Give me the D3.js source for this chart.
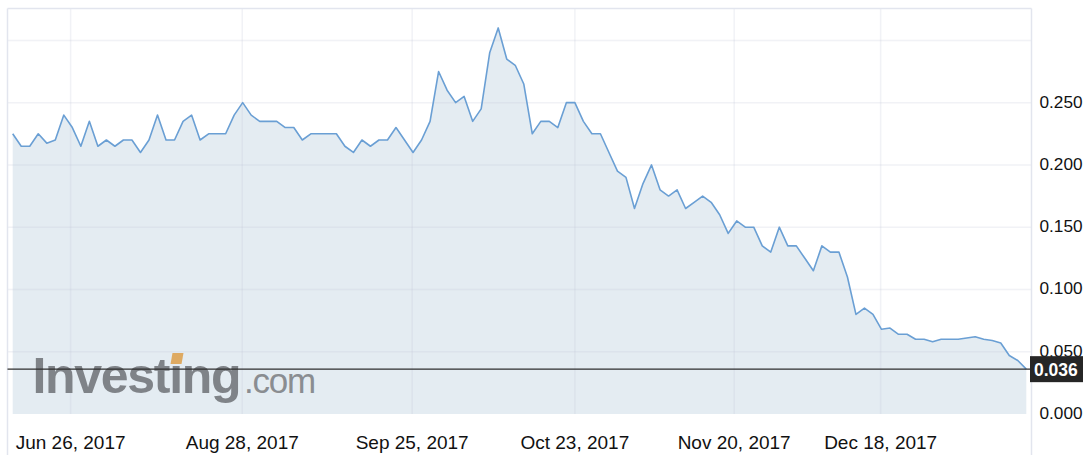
<!DOCTYPE html>
<html>
<head>
<meta charset="utf-8">
<script src="https://cdn.jsdelivr.net/npm/d3@7"></script>
<style>
  html, body { margin: 0; padding: 0; background: #fff; }
  svg { display: block; font-family: "Liberation Sans", Arial, Helvetica, sans-serif; }
</style>
</head>
<body>
<svg id="chart" width="1087" height="455"></svg>
<script>
// ---- data ----
const prices = [
  0.225, 0.215, 0.215, 0.225, 0.2175, 0.22, 0.24, 0.23, 0.215, 0.235,
  0.215, 0.22, 0.215, 0.22, 0.22, 0.21, 0.22, 0.24, 0.22, 0.22,
  0.235, 0.24, 0.22, 0.225, 0.225, 0.225, 0.24, 0.25, 0.24, 0.235,
  0.235, 0.235, 0.23, 0.23, 0.22, 0.225, 0.225, 0.225, 0.225, 0.215,
  0.21, 0.22, 0.215, 0.22, 0.22, 0.23, 0.22, 0.21, 0.22, 0.235,
  0.275, 0.26, 0.25, 0.255, 0.235, 0.245, 0.29, 0.31, 0.285, 0.28,
  0.265, 0.225, 0.235, 0.235, 0.23, 0.25, 0.25, 0.235, 0.225, 0.225,
  0.21, 0.195, 0.19, 0.165, 0.185, 0.2, 0.18, 0.175, 0.18, 0.165,
  0.17, 0.175, 0.17, 0.16, 0.145, 0.155, 0.15, 0.15, 0.135, 0.13,
  0.15, 0.135, 0.135, 0.125, 0.115, 0.135, 0.13, 0.13, 0.11, 0.08,
  0.085, 0.08, 0.068, 0.069, 0.064, 0.064, 0.06, 0.06, 0.058, 0.06,
  0.06, 0.06, 0.061, 0.062, 0.06, 0.059, 0.057, 0.047, 0.043, 0.036
];
const xTickLabels = ["Jun 26, 2017", "Aug 28, 2017", "Sep 25, 2017", "Oct 23, 2017", "Nov 20, 2017", "Dec 18, 2017"];
const xTickIndex  = [6.8, 26.95, 46.9, 66, 84.7, 101.9];
const yGridValues = [0, 0.05, 0.1, 0.15, 0.2, 0.25, 0.3];
const yTickLabels = ["0.000", "0.050", "0.100", "0.150", "0.200", "0.250"];
const yTickValues = [0, 0.05, 0.1, 0.15, 0.2, 0.25];
const lastPrice = 0.036;

// ---- layout ----
const svg = d3.select("#chart");
const frame = { left: 7.5, right: 1031.5, top: 8.5, bottom: 455 };
const plot = { top: 8.5, bottom: 414 };

const x = d3.scaleLinear().domain([0, prices.length - 1]).range([12.7, 1026.3]);
const y = d3.scaleLinear().domain([0, 0.3256]).range([plot.bottom, plot.top]);

// fill area
const area = d3.area()
  .x((d, i) => x(i))
  .y0(y(0))
  .y1(d => y(d));
svg.append("path")
  .datum(prices)
  .attr("d", area)
  .attr("fill", "#e4ecf2");

// grid lines
const grid = svg.append("g").attr("stroke", "rgba(190,198,212,0.22)").attr("stroke-width", 1.5);
grid.selectAll("line.h").data(yGridValues.filter(v => v > 0)).enter().append("line")
  .attr("x1", frame.left).attr("x2", frame.right)
  .attr("y1", d => y(d)).attr("y2", d => y(d));
grid.selectAll("line.v").data(xTickIndex).enter().append("line")
  .attr("x1", d => x(d)).attr("x2", d => x(d))
  .attr("y1", plot.top).attr("y2", plot.bottom);

// frame borders
const border = svg.append("g").attr("stroke", "#e2e5ee").attr("stroke-width", 1.5).attr("fill", "none");
border.append("line").attr("x1", frame.left).attr("x2", frame.right).attr("y1", frame.top).attr("y2", frame.top);
border.append("line").attr("x1", frame.left).attr("x2", frame.left).attr("y1", frame.top).attr("y2", frame.bottom);
border.append("line").attr("x1", frame.right).attr("x2", frame.right).attr("y1", frame.top).attr("y2", frame.bottom);

// watermark
const wm = svg.append("g").attr("class", "watermark");
const inv = wm.append("text")
  .attr("x", 32.5).attr("y", 392.5)
  .attr("font-size", 50).attr("font-weight", "bold")
  .attr("letter-spacing", "-1.3px")
  .attr("fill", "#7f8388")
  .text("Investing");
const com = wm.append("text")
  .attr("x", 244).attr("y", 392.5)
  .attr("font-size", 35)
  .attr("letter-spacing", "-1.2px")
  .attr("fill", "#8a8d91")
  .text(".com");
// orange accent on the i
try {
  const p = inv.node().getStartPositionOfChar(6);
  const e = inv.node().getEndPositionOfChar(6);
  const cx = (p.x + e.x) / 2;
  wm.append("polygon")
    .attr("points", [[cx - 5, 364], [cx + 6, 364], [cx + 8, 353], [cx - 3, 353]].map(q => q.join(",")).join(" "))
    .attr("fill", "#deaa62");
} catch (err) {}

// price line
const line = d3.line().x((d, i) => x(i)).y(d => y(d));
svg.append("path")
  .datum(prices)
  .attr("d", line)
  .attr("fill", "none")
  .attr("stroke", "#6a9fd4")
  .attr("stroke-width", 1.6)
  .attr("stroke-linejoin", "round");

// last price line + label
svg.append("line")
  .attr("x1", frame.left).attr("x2", 1030)
  .attr("y1", y(lastPrice)).attr("y2", y(lastPrice))
  .attr("stroke", "#2e2e2e").attr("stroke-width", 1.3);

// y axis labels
svg.append("g").selectAll("text").data(yTickValues).enter().append("text")
  .attr("x", 1039.5)
  .attr("y", d => y(d) + 5)
  .attr("font-size", 17.2)
  .attr("fill", "#111")
  .text((d, i) => yTickLabels[i]);

const lbl = svg.append("g");
lbl.append("rect")
  .attr("x", 1030).attr("y", y(lastPrice) - 13)
  .attr("width", 53).attr("height", 26)
  .attr("fill", "#262626");
lbl.append("text")
  .attr("x", 1034).attr("y", y(lastPrice) + 6.5)
  .attr("font-size", 17.5)
  .attr("font-weight", "bold")
  .attr("fill", "#fff")
  .text(d3.format(".3f")(lastPrice));

// x axis labels
svg.append("g").selectAll("text").data(xTickIndex).enter().append("text")
  .attr("x", d => x(d))
  .attr("y", 448.5)
  .attr("text-anchor", "middle")
  .attr("font-size", 19)
  .attr("fill", "#111")
  .text((d, i) => xTickLabels[i]);
</script>
</body>
</html>
